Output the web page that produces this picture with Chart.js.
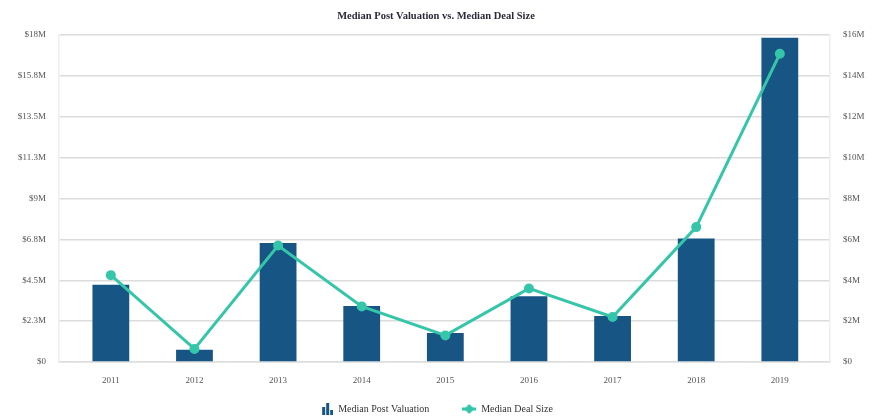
<!DOCTYPE html>
<html>
<head>
<meta charset="utf-8">
<script src="https://cdn.jsdelivr.net/npm/chart.js@4.4.0/dist/chart.umd.min.js"></script>
<style>
  html, body { margin: 0; padding: 0; background: #fff; }
  #wrap { width: 872px; height: 417px; }
</style>
</head>
<body>
<div id="wrap"><canvas id="myChart"></canvas></div>
<script>
// values in $M
var years = ['2011', '2012', '2013', '2014', '2015', '2016', '2017', '2018', '2019'];
var postValuation = [4.25, 0.68, 6.55, 3.08, 1.6, 3.62, 2.53, 6.8, 17.85];
var dealSize = [4.25, 0.64, 5.7, 2.72, 1.3, 3.6, 2.2, 6.6, 15.08];
var leftTicks = [0, 2.25, 4.5, 6.75, 9, 11.25, 13.5, 15.75, 18];
var leftTickLabels = ['$0', '$2.3M', '$4.5M', '$6.8M', '$9M', '$11.3M', '$13.5M', '$15.8M', '$18M'];
var rightTickLabels = ['$0', '$2M', '$4M', '$6M', '$8M', '$10M', '$12M', '$14M', '$16M'];

var blue = '#175585';
var teal = '#35C6AA';
var serif = '"Liberation Serif", "Times New Roman", serif';

function barIcon() {
  var c = document.createElement('canvas');
  c.width = 14; c.height = 12;
  var g = c.getContext('2d');
  g.fillStyle = blue;
  g.fillRect(3, 4, 3, 8);
  g.fillRect(7, 0, 3, 12);
  g.fillRect(11, 7, 3, 5);
  return c;
}

function lineIcon() {
  var c = document.createElement('canvas');
  c.width = 14; c.height = 12;
  var g = c.getContext('2d');
  g.strokeStyle = teal;
  g.lineWidth = 3;
  g.beginPath(); g.moveTo(0, 6); g.lineTo(14, 6); g.stroke();
  g.fillStyle = teal;
  g.beginPath(); g.moveTo(7, 1); g.lineTo(12, 6); g.lineTo(7, 11); g.lineTo(2, 6); g.closePath(); g.fill();
  return c;
}

var ctx = document.getElementById('myChart').getContext('2d');
var chart = new Chart(ctx, {
  type: 'bar',
  data: {
    datasets: [{
      type: 'bar',
      label: 'Median Post Valuation',
      data: postValuation.map(function(v, i) { return { x: i, y: v }; }),
      backgroundColor: blue,
      yAxisID: 'y',
      categoryPercentage: 0.8,
      barPercentage: 0.55,
      order: 1
    }, {
      type: 'line',
      label: 'Median Deal Size',
      data: dealSize.map(function(v, i) { return { x: i, y: v }; }),
      borderColor: teal,
      backgroundColor: teal,
      borderWidth: 3,
      pointRadius: 3.5,
      pointHoverRadius: 3.5,
      yAxisID: 'y1',
      order: 0
    }]
  },
  options: {
    responsive: true,
    maintainAspectRatio: false,
    animation: false,
    layout: { padding: { left: 0, right: 0, top: 0, bottom: -7 } },
    plugins: {
      title: {
        display: true,
        text: 'Median Post Valuation vs. Median Deal Size',
        color: '#2a2a3a',
        font: { family: serif, size: 10.5, weight: 'bold' },
        padding: { top: 9.5, bottom: 12.9 }
      },
      legend: {
        position: 'bottom',
        labels: {
          usePointStyle: true,
          pointStyleWidth: 14,
          color: '#333',
          font: { family: serif, size: 10 },
          padding: 18,
          sort: function(a, b) { return a.datasetIndex - b.datasetIndex; },
          generateLabels: function(c) {
            var items = Chart.defaults.plugins.legend.labels.generateLabels(c);
            items.forEach(function(it) {
              if (it.datasetIndex === 0) {
                it.pointStyle = barIcon();
                it.text = it.text + '      ';
              } else {
                it.pointStyle = lineIcon();
              }
            });
            return items;
          }
        }
      },
      tooltip: { enabled: false }
    },
    scales: {
      x: {
        type: 'linear',
        offset: false,
        min: -0.62,
        max: 8.6,
        afterBuildTicks: function(scale) {
          scale.ticks = years.map(function(y, i) { return { value: i }; });
        },
        afterFit: function(scale) { scale.height = 24; },
        ticks: {
          color: '#555',
          font: { family: serif, size: 9 },
          padding: 13,
          autoSkip: false,
          maxRotation: 0,
          callback: function(v) { return years[v]; }
        },
        grid: { display: false, drawTicks: false },
        border: { display: true, color: '#ddd', width: 1.5 }
      },
      y: {
        position: 'left',
        min: 0,
        max: 18,
        afterBuildTicks: function(scale) {
          scale.ticks = leftTicks.map(function(v) { return { value: v }; });
        },
        afterFit: function(scale) { scale.width = 59; },
        ticks: {
          color: '#555',
          font: { family: serif, size: 9 },
          padding: 13,
          callback: function(v, i) { return leftTickLabels[i]; }
        },
        grid: { color: '#dcdcdc', lineWidth: 1.5, drawTicks: false },
        border: { display: true, color: '#eee', width: 1.5 }
      },
      y1: {
        position: 'right',
        min: 0,
        max: 16,
        afterFit: function(scale) { scale.width = 42; },
        ticks: {
          stepSize: 2,
          color: '#555',
          font: { family: serif, size: 9 },
          padding: 13,
          callback: function(v, i) { return rightTickLabels[i]; }
        },
        grid: { drawOnChartArea: false, drawTicks: false },
        border: { display: true, color: '#eee', width: 1.5 }
      }
    }
  }
});
</script>
</body>
</html>
